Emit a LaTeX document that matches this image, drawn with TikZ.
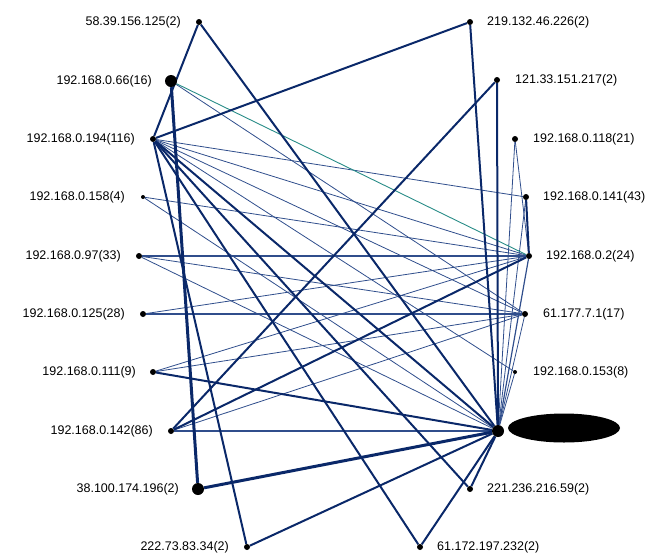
\documentclass[tikz,border=0pt]{standalone}
\usepackage{fontspec}
\setmainfont{Liberation Sans}
\usetikzlibrary{positioning,backgrounds,shapes.geometric}
\definecolor{lienFonce}{RGB}{10,40,105}
\definecolor{lienClair}{RGB}{48,78,140}
\definecolor{lienVert}{RGB}{40,140,135}

\begin{document}
\begin{tikzpicture}[
  x=1pt, y=-1pt,
  hote/.style={circle, fill=black, inner sep=0pt, minimum size=6pt},
  gros/.style={hote, minimum size=12pt},
  petit/.style={hote, minimum size=4pt},
  lbl/.style={font=\fontsize{12.5}{14}\selectfont, inner sep=0pt},
  cacheStyle/.style={ellipse, fill=black, inner sep=0pt, minimum width=112pt, minimum height=29pt},
  lienEpais/.style={line width=3pt, lienFonce},
  lienFort/.style={line width=2pt, lienFonce},
  lienMoyen/.style={line width=1.2pt, lienClair},
  lienFin/.style={line width=0.8pt, lienClair},
  lienVertStyle/.style={line width=0.9pt, lienVert}
]
\useasboundingbox (0,0) rectangle (651,558);

% hotes a gauche
\node[hote]  (l58)  at (199,22)  {};
\node[gros]  (l66)  at (171,81)  {};
\node[hote]  (l194) at (153,139) {};
\node[petit] (l158) at (143,197) {};
\node[hote]  (l97)  at (139,256) {};
\node[hote]  (l125) at (143,314) {};
\node[hote]  (l111) at (153,372) {};
\node[hote]  (l142) at (171,431) {};
\node[gros]  (l38)  at (198,489) {};
\node[hote]  (l222) at (247,547) {};

% hotes a droite
\node[hote]  (r219) at (470,22)  {};
\node[hote]  (r121) at (497,80)  {};
\node[hote]  (r118) at (515,139) {};
\node[hote]  (r141) at (526,197) {};
\node[hote]  (r2)   at (529,256) {};
\node[hote]  (r61a) at (525,314) {};
\node[petit] (r153) at (515,372) {};
\node[gros]  (cache) at (498,431) {};
\node[hote]  (r221) at (470,489) {};
\node[hote]  (r61b) at (420,547) {};

% etiquettes
\node[lbl, left=18pt of l58.center]  (t58)  {58.39.156.125(2)};
\node[lbl, left=19pt of l66.center]  (t66)  {192.168.0.66(16)};
\node[lbl, left=18pt of l194.center] (t194) {192.168.0.194(116)};
\node[lbl, left=18pt of l158.center] (t158) {192.168.0.158(4)};
\node[lbl, left=18pt of l97.center]  (t97)  {192.168.0.97(33)};
\node[lbl, left=18pt of l125.center] (t125) {192.168.0.125(28)};
\node[lbl, left=17pt of l111.center] (t111) {192.168.0.111(9)};
\node[lbl, left=18pt of l142.center] (t142) {192.168.0.142(86)};
\node[lbl, left=19pt of l38.center]  (t38)  {38.100.174.196(2)};
\node[lbl, left=18pt of l222.center] (t222) {222.73.83.34(2)};

\node[lbl, right=17pt of r219.center] (t219) {219.132.46.226(2)};
\node[lbl, right=18pt of r121.center] (t121) {121.33.151.217(2)};
\node[lbl, right=18pt of r118.center] (t118) {192.168.0.118(21)};
\node[lbl, right=17pt of r141.center] (t141) {192.168.0.141(43)};
\node[lbl, right=17pt of r2.center]   (t2)   {192.168.0.2(24)};
\node[lbl, right=18pt of r61a.center] (t61a) {61.177.7.1(17)};
\node[lbl, right=18pt of r153.center] (t153) {192.168.0.153(8)};
\node[lbl, right=17pt of r221.center] (t221) {221.236.216.59(2)};
\node[lbl, right=17pt of r61b.center] (t61b) {61.172.197.232(2)};

\node[cacheStyle] (masque) at (564,428) {};

\begin{scope}[on background layer]
% liens fins
\draw[lienFin] (l194) -- (r141);
\draw[lienFin] (l194) -- (r2);
\draw[lienFin] (l194) -- (r61a);
\draw[lienFin] (l194) -- (r153);
\draw[lienFin] (l158) -- (r2);
\draw[lienFin] (l158) -- (cache);
\draw[lienFin] (l97) -- (r61a);
\draw[lienFin] (l97) -- (cache);
\draw[lienFin] (l125) -- (r2);
\draw[lienFin] (l111) -- (r2);
\draw[lienFin] (l111) -- (r61a);
\draw[lienFin] (l142) -- (r61a);
\draw[lienFin] (l66) -- (r61a);
\draw[lienFin] (r118) -- (r2);
\draw[lienFin] (r118) -- (cache);
\draw[lienFin] (r141) -- (cache);
\draw[lienFin] (r61a) -- (cache);
\draw[lienFin] (r153) -- (cache);
\draw[lienVertStyle] (l66) -- (r2);
% liens moyens
\draw[lienMoyen] (l97) -- (r2);
\draw[lienMoyen] (l125) -- (r61a);
\draw[lienMoyen] (l142) -- (cache);
\draw[lienMoyen] (r2) -- (cache);
% liens forts
\draw[lienFort] (l194) -- (r219);
\draw[lienFort] (l58) -- (l194);
\draw[lienFort] (l58) -- (cache);
\draw[lienFort] (r219) -- (cache);
\draw[lienFort] (r121) -- (cache);
\draw[lienFort] (l142) -- (r121);
\draw[lienFort] (l142) -- (r2);
\draw[lienFort] (l111) -- (cache);
\draw[lienFort] (l194) -- (r221);
\draw[lienFort] (l194) -- (r61b);
\draw[lienFort] (l194) -- (l222);
\draw[lienFort] (l194) -- (cache);
\draw[lienFort] (l222) -- (cache);
\draw[lienFort] (r221) -- (cache);
\draw[lienFort] (r61b) -- (cache);
\draw[lienFort] (r141) -- (r2);
\draw[lienEpais] (l66) -- (l38);
\draw[lienEpais] (l38) -- (cache);
\end{scope}

\end{tikzpicture}
\end{document}
